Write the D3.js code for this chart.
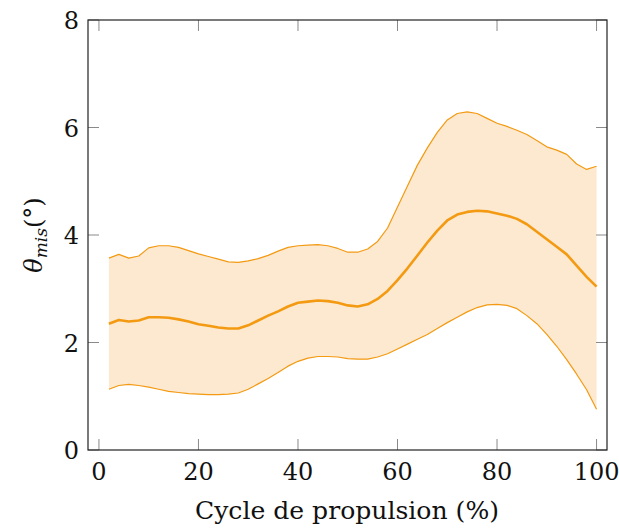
<!DOCTYPE html>
<html lang="fr">
<head>
<meta charset="UTF-8" />
<title>theta mis</title>
<script src="https://cdn.jsdelivr.net/npm/d3@7"></script>
<style>
  body { margin: 0; background: #fff; }
</style>
</head>
<body>
<svg id="fig" width="619" height="528" font-family="'DejaVu Serif', serif"></svg>
<script>
// cycle (%) sampled every 2 %
const cycle = [2,4,6,8,10,12,14,16,18,20,22,24,26,28,30,32,34,36,38,40,
  42,44,46,48,50,52,54,56,58,60,62,64,66,68,70,72,74,76,78,80,
  82,84,86,88,90,92,94,96,98,100];
const upper = [3.57,3.64,3.57,3.61,3.76,3.80,3.80,3.77,3.71,3.65,3.60,3.55,3.50,3.49,3.52,3.56,3.62,3.70,3.77,3.80,
  3.81,3.82,3.80,3.75,3.68,3.68,3.74,3.88,4.13,4.52,4.91,5.30,5.62,5.91,6.14,6.26,6.29,6.26,6.17,6.08,
  6.02,5.95,5.87,5.76,5.64,5.58,5.50,5.32,5.22,5.28];
const mean = [2.35,2.42,2.39,2.41,2.47,2.47,2.46,2.43,2.39,2.34,2.31,2.28,2.26,2.26,2.32,2.41,2.50,2.58,2.67,2.74,
  2.76,2.78,2.77,2.74,2.69,2.67,2.71,2.81,2.96,3.16,3.38,3.62,3.86,4.08,4.27,4.38,4.43,4.45,4.44,4.40,
  4.36,4.30,4.20,4.06,3.92,3.78,3.64,3.43,3.22,3.04];
const lower = [1.13,1.20,1.22,1.20,1.17,1.13,1.09,1.07,1.05,1.04,1.03,1.03,1.04,1.06,1.13,1.23,1.33,1.44,1.56,1.65,
  1.71,1.74,1.74,1.73,1.70,1.69,1.69,1.73,1.79,1.88,1.97,2.06,2.15,2.26,2.37,2.47,2.57,2.65,2.70,2.71,
  2.69,2.63,2.50,2.35,2.15,1.93,1.68,1.41,1.12,0.76];
const xTicks = [0, 20, 40, 60, 80, 100];
const yTicks = [0, 2, 4, 6, 8];

const mLeft = 88, mRight = 607, mTop = 20, mBottom = 450;
const svg = d3.select("#fig");

let x = d3.scaleLinear().domain([-2.2, 102.1]).range([mLeft, mRight]);
let y = d3.scaleLinear().domain([0, 8]).range([mBottom, mTop]);

let rows = cycle.map((c, i) => ({ c: c, lo: lower[i], m: mean[i], hi: upper[i] }));

// band
svg.append("path")
  .datum(rows)
  .attr("fill", "#fce9cf")
  .attr("d", d3.area().x(d => x(d.c)).y0(d => y(d.lo)).y1(d => y(d.hi)));

// bounds + mean
[["hi", 1.2], ["lo", 1.2], ["m", 2.6]].forEach(([k, w]) => {
  svg.append("path")
    .datum(rows)
    .attr("fill", "none")
    .attr("stroke", "#f39a12")
    .attr("stroke-width", w)
    .attr("stroke-linejoin", "round")
    .attr("d", d3.line().x(d => x(d.c)).y(d => y(d[k])));
});

// ticks (inward, mirrored)
const tickLen = 11;
let tk = svg.append("g").attr("stroke", "#8a8a8a").attr("stroke-width", 1);
xTicks.forEach(t => {
  tk.append("line").attr("x1", x(t)).attr("x2", x(t)).attr("y1", mBottom).attr("y2", mBottom - tickLen);
  tk.append("line").attr("x1", x(t)).attr("x2", x(t)).attr("y1", mTop).attr("y2", mTop + tickLen);
});
yTicks.forEach(t => {
  tk.append("line").attr("x1", mLeft).attr("x2", mLeft + tickLen).attr("y1", y(t)).attr("y2", y(t));
  tk.append("line").attr("x1", mRight).attr("x2", mRight - tickLen).attr("y1", y(t)).attr("y2", y(t));
});

// frame
svg.append("rect")
  .attr("x", mLeft).attr("y", mTop)
  .attr("width", mRight - mLeft).attr("height", mBottom - mTop)
  .attr("fill", "none").attr("stroke", "#222").attr("stroke-width", 1.2);

// tick labels
svg.append("g").attr("fill", "#111").selectAll("text").data(xTicks).join("text")
  .attr("x", d => x(d)).attr("y", 480)
  .attr("text-anchor", "middle").attr("font-size", 24)
  .text(d => d);
svg.append("g").attr("fill", "#111").selectAll("text").data(yTicks).join("text")
  .attr("x", 79).attr("y", d => y(d) + 9)
  .attr("text-anchor", "end").attr("font-size", 24)
  .text(d => d);

// axis titles
svg.append("text")
  .attr("x", 347).attr("y", 519).attr("fill", "#111")
  .attr("text-anchor", "middle").attr("font-size", 24)
  .attr("textLength", 304).attr("lengthAdjust", "spacingAndGlyphs")
  .text("Cycle de propulsion (%)");

let yl = svg.append("text")
  .attr("transform", "translate(42,235) rotate(-90)").attr("fill", "#111")
  .attr("text-anchor", "middle").attr("font-size", 24);
yl.append("tspan").attr("font-style", "italic").text("θ");
yl.append("tspan").attr("font-style", "italic").attr("font-size", 17).attr("dy", 5).text("mis");
yl.append("tspan").attr("dy", -5).text("(°)");
</script>
</body>
</html>
